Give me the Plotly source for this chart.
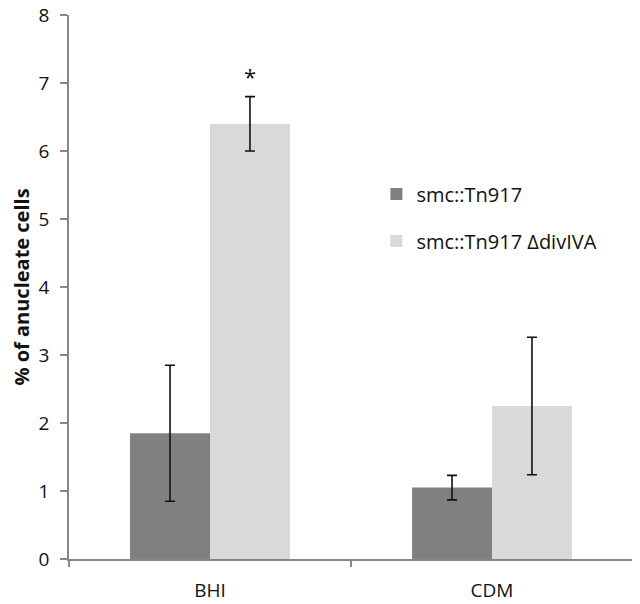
import plotly.graph_objects as go

categories = ["BHI", "CDM"]
series_names = ["smc::Tn917", "smc::Tn917 \u0394divIVA"]
wt_values = [1.85, 1.05]
wt_errors = [1.0, 0.18]
mut_values = [6.4, 2.25]
mut_errors = [0.4, 1.01]
colors = ["#808080", "#d9d9d9"]
star_category = "BHI"
star_y = 7.1

FONT = "'Open Sans', sans-serif"

fig = go.Figure()
for name, vals, errs, col in [
    (series_names[0], wt_values, wt_errors, colors[0]),
    (series_names[1], mut_values, mut_errors, colors[1]),
]:
    fig.add_trace(go.Bar(
        x=categories, y=vals, name=name, marker=dict(color=col, line=dict(width=0)),
        error_y=dict(type="data", array=errs, visible=True, color="#111111",
                     thickness=1.6, width=5),
        legendgroup=name,
    ))

fig.add_annotation(x=star_category, y=star_y, xref="x", yref="y", xshift=40,
                   text="*", showarrow=False, font=dict(family=FONT, size=22, color="#111"))

fig.update_layout(
    width=632, height=596,
    margin=dict(l=61, r=7, t=7, b=45),
    paper_bgcolor="white", plot_bgcolor="white",
    barmode="group", bargap=0.433, bargroupgap=0,
    font=dict(family=FONT, color="#111"),
    showlegend=True,
    legend=dict(x=0.545, y=0.707, xanchor="left", yanchor="top",
                font=dict(family=FONT, size=20, color="#111"),
                traceorder="grouped", tracegroupgap=18, bgcolor="rgba(0,0,0,0)"),
    xaxis=dict(showline=True, linecolor="#868686", linewidth=1.5,
               ticks="outside", ticklen=6, tickcolor="#868686", tickwidth=1.5,
               tickson="boundaries", tickfont=dict(family=FONT, size=19, color="#111"),
               ticklabelstandoff=13, automargin=False,
               showgrid=False, zeroline=False),
    yaxis=dict(range=[0, 8], dtick=1, showline=True, linecolor="#868686", linewidth=1.5,
               ticks="outside", ticklen=7, tickcolor="#868686", tickwidth=1.5,
               tickfont=dict(family=FONT, size=19, color="#111"),
               ticklabelstandoff=7, automargin=False, ticklabeloverflow="allow",
               showgrid=False, zeroline=False,
               title=dict(text="<b>% of anucleate cells</b>", standoff=6,
                          font=dict(family=FONT, size=20, color="#111"))),
)

fig.write_html("out.html")
